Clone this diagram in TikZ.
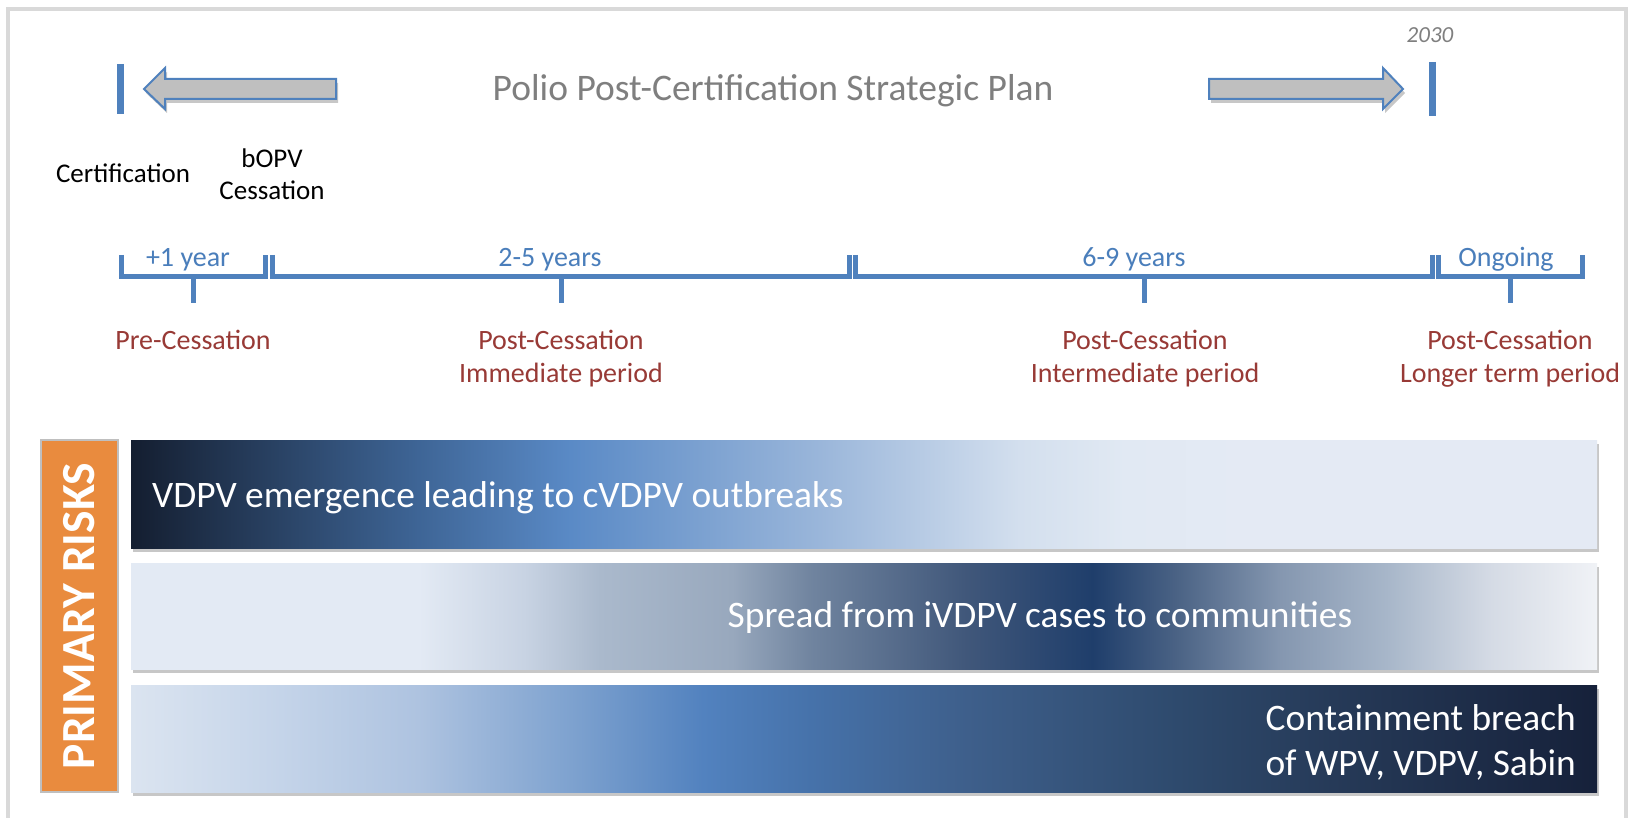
\documentclass[tikz,border=0pt]{standalone}
\usepackage{fontspec}
\setmainfont{Carlito}
\usepackage{tikz}
\usetikzlibrary{shadows}

\definecolor{lineblue}{HTML}{4F81BD}
\definecolor{labelblue}{HTML}{4A7EBB}
\definecolor{phasered}{HTML}{983A36}
\definecolor{plangray}{HTML}{7F7F7F}
\definecolor{arrowgray}{HTML}{BFBFBF}
\definecolor{framegray}{HTML}{D9D9D9}
\definecolor{riskorange}{HTML}{E98B3E}

\definecolor{ra0}{HTML}{141E30}
\definecolor{ra1}{HTML}{3E6596}
\definecolor{ra2}{HTML}{5A8AC6}
\definecolor{ra3}{HTML}{9AB6DA}
\definecolor{ra4}{HTML}{D3DFEE}
\definecolor{ra5}{HTML}{E1E9F3}
\definecolor{ra6}{HTML}{E4EAF4}

\definecolor{rb0}{HTML}{E3EAF4}
\definecolor{rb1}{HTML}{C8D3E3}
\definecolor{rb2}{HTML}{AAB9CC}
\definecolor{rb3}{HTML}{98A8BD}
\definecolor{rb4}{HTML}{70849F}
\definecolor{rb5}{HTML}{40577A}
\definecolor{rb6}{HTML}{1F3E6B}
\definecolor{rb7}{HTML}{4B6385}
\definecolor{rb8}{HTML}{8597B0}
\definecolor{rb9}{HTML}{A7B6C9}
\definecolor{rb10}{HTML}{D5DBE5}
\definecolor{rb11}{HTML}{F0F2F6}

\definecolor{rc0}{HTML}{DBE4F0}
\definecolor{rc1}{HTML}{C7D6EA}
\definecolor{rc2}{HTML}{AEC3E0}
\definecolor{rc3}{HTML}{7EA2CF}
\definecolor{rc4}{HTML}{5282BF}
\definecolor{rc5}{HTML}{4672AA}
\definecolor{rc6}{HTML}{3E5F8B}
\definecolor{rc7}{HTML}{2E4A6D}
\definecolor{rc8}{HTML}{263A58}
\definecolor{rc9}{HTML}{16213A}

\pgfdeclarehorizontalshading{riskone}{100bp}{color(0bp)=(ra0); color(25bp)=(ra0); color(34.8bp)=(ra1); color(40bp)=(ra2); color(48.5bp)=(ra3); color(55.3bp)=(ra4); color(58.9bp)=(ra5); color(63bp)=(ra6); color(75bp)=(ra6); color(100bp)=(ra6)}
\pgfdeclarehorizontalshading{risktwo}{100bp}{color(0bp)=(rb0); color(25bp)=(rb0); color(34.8bp)=(rb0); color(38.4bp)=(rb1); color(41bp)=(rb2); color(45.5bp)=(rb3); color(48.2bp)=(rb4); color(53.5bp)=(rb5); color(57.8bp)=(rb6); color(60.7bp)=(rb7); color(64.2bp)=(rb8); color(67.8bp)=(rb9); color(71.4bp)=(rb10); color(75bp)=(rb11); color(100bp)=(rb11)}
\pgfdeclarehorizontalshading{riskthree}{100bp}{color(0bp)=(rc0); color(25bp)=(rc0); color(29.5bp)=(rc1); color(34.8bp)=(rc2); color(40bp)=(rc3); color(44.5bp)=(rc4); color(48.2bp)=(rc5); color(53.5bp)=(rc6); color(60.7bp)=(rc7); color(66bp)=(rc8); color(75bp)=(rc9); color(100bp)=(rc9)}

\tikzset{
  softshadow/.style={drop shadow={shadow xshift=2pt, shadow yshift=-4pt, opacity=0.22, fill=black}},
  marker/.style={draw=lineblue, line width=7pt},
  span/.style={draw=lineblue, line width=5pt},
  planarrow/.style={draw=lineblue, line width=2pt, fill=arrowgray, line join=miter, softshadow},
  period/.style={text=labelblue, inner sep=0pt, anchor=base, font=\fontsize{28}{33}\selectfont},
  phase/.style={text=phasered, inner sep=0pt, align=center, font=\fontsize{28}{33}\selectfont},
  event/.style={inner sep=0pt, align=center, font=\fontsize{27}{32}\selectfont},
  riskbar/.style={minimum width=1466pt, inner sep=0pt, softshadow},
  risktext/.style={text=white, inner sep=0pt, align=right, font=\fontsize{37.4}{45}\selectfont}
}

\begin{document}
\begin{tikzpicture}[x=1pt,y=-1pt]
\useasboundingbox (0,0) rectangle (1630,818);
\fill[white] (0,0) rectangle (1630,818);
\draw[framegray, line width=4pt] (8,830) -- (8,9) -- (1626,9) -- (1626,830);

\node[text=plangray, inner sep=0pt, anchor=base, font=\fontsize{37.5}{44}\selectfont] (plan) at (773,101) {Polio Post-Certification Strategic Plan};
\node[text=plangray, inner sep=0pt, anchor=base, font=\fontsize{23}{28}\itshape] (year) at (1430,43) {2030};

\draw[planarrow] (144,89) -- (165,68) -- (165,79) -- (336,79) -- (336,99) -- (165,99) -- (165,109) -- cycle;
\draw[planarrow] (1209,79) -- (1383,79) -- (1383,68) -- (1403,89) -- (1383,109) -- (1383,99) -- (1209,99) -- cycle;
\draw[marker] (120,64) -- (120,114);
\draw[marker] (1432,62) -- (1432,116);

\node[event, anchor=base] (cert) at (123,183) {Certification};
\node[event] (bopv) at (272,174) {bOPV\\Cessation};

\foreach \l/\r/\m in {121/265/193, 272/849/561, 855/1432/1144, 1438/1582/1510}{
  \draw[span] (\l,255) -- (\l,277) -- (\r,277) -- (\r,255);
  \draw[span] (\m,277) -- (\m,303);
}

\node[period] (yearone) at (188,267) {+1 year};
\node[period] (yearstwo) at (550,267) {2-5 years};
\node[period] (yearssix) at (1134,267) {6-9 years};
\node[period] (ongoing) at (1506,267) {Ongoing};

\node[phase, anchor=base] (pre) at (193,349) {Pre-Cessation};
\node[phase] (immediate) at (561,359) {Post-Cessation\\Immediate period};
\node[phase] (intermediate) at (1145,359) {Post-Cessation\\Intermediate period};
\node[phase] (longer) at (1510,359) {Post-Cessation\\Longer term period};

\node[draw=arrowgray, line width=2pt, fill=riskorange, rotate=90, minimum width=352pt, minimum height=77pt, text=white, font=\fontsize{47.5}{50}\bfseries] (risks) at (79.5,616) {PRIMARY RISKS};

\node[riskbar, minimum height=108pt, shading=riskone] (vdpv) at (864,494) {};
\node[riskbar, minimum height=106pt, shading=risktwo] (spread) at (864,616) {};
\node[riskbar, minimum height=107pt, shading=riskthree] (breach) at (864,738.5) {};

\node[risktext, anchor=base west] (vdpvtext) at (152,507) {VDPV emergence leading to cVDPV outbreaks};
\node[risktext, anchor=base] (spreadtext) at (1040,627) {Spread from iVDPV cases to communities};
\node[risktext, anchor=east] (breachtext) at (1576,742) {Containment breach\\of WPV, VDPV, Sabin};
\end{tikzpicture}
\end{document}
